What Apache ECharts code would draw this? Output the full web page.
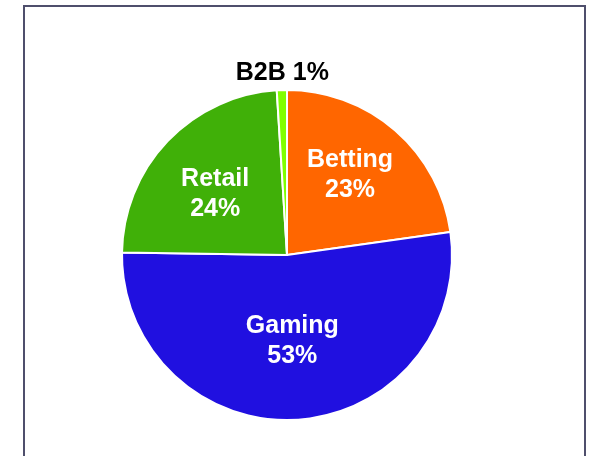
<!DOCTYPE html>
<html>
<head>
<meta charset="utf-8">
<script src="https://cdn.jsdelivr.net/npm/echarts@6/dist/echarts.min.js"></script>
<style>
  html, body { margin: 0; padding: 0; background: #fff; }
  #frame {
    position: absolute; left: 23px; top: 5px; width: 563px; height: 470px;
    border: 2px solid #4f4f6c; box-sizing: border-box;
  }
  #chart { position: absolute; left: 0; top: 0; width: 592px; height: 456px; }
</style>
</head>
<body>
<div id="frame"></div>
<div id="chart"></div>
<script>
const segments = ['Betting', 'Gaming', 'Retail', 'B2B']
const shares = [23, 53, 24, 1]
const colors = ['#ff6600', '#2010e0', '#40b008', '#80ff00']

// label nudges so the text sits where the original puts it
const labelOffsets = [[7, -15], [0, 1], [-10, -2], [52, -17]]

const chart = echarts.init(document.getElementById('chart'))

const data = segments.map((name, i) => {
  const item = {
    name: name,
    value: shares[i],
    itemStyle: { color: colors[i] },
    label: { offset: labelOffsets[i] }
  }
  if (name === 'B2B') {
    item.label = {
      position: 'outside',
      color: '#000',
      formatter: '{b} {c}%',
      offset: labelOffsets[i]
    }
  }
  return item
})

chart.setOption({
  animation: false,
  series: [{
    type: 'pie',
    center: [287, 255],
    radius: [0, 165],
    startAngle: 90,
    clockwise: true,
    avoidLabelOverlap: false,
    itemStyle: { borderColor: '#fff', borderWidth: 2 },
    label: {
      position: 'inside',
      formatter: '{b}\n{c}%',
      color: '#fff',
      fontFamily: 'Liberation Sans, Arial, sans-serif',
      fontWeight: 'bold',
      fontSize: 25,
      lineHeight: 30
    },
    labelLine: { show: false, length: 0, length2: 0 },
    emphasis: { disabled: true },
    data: data
  }]
})
</script>
</body>
</html>
